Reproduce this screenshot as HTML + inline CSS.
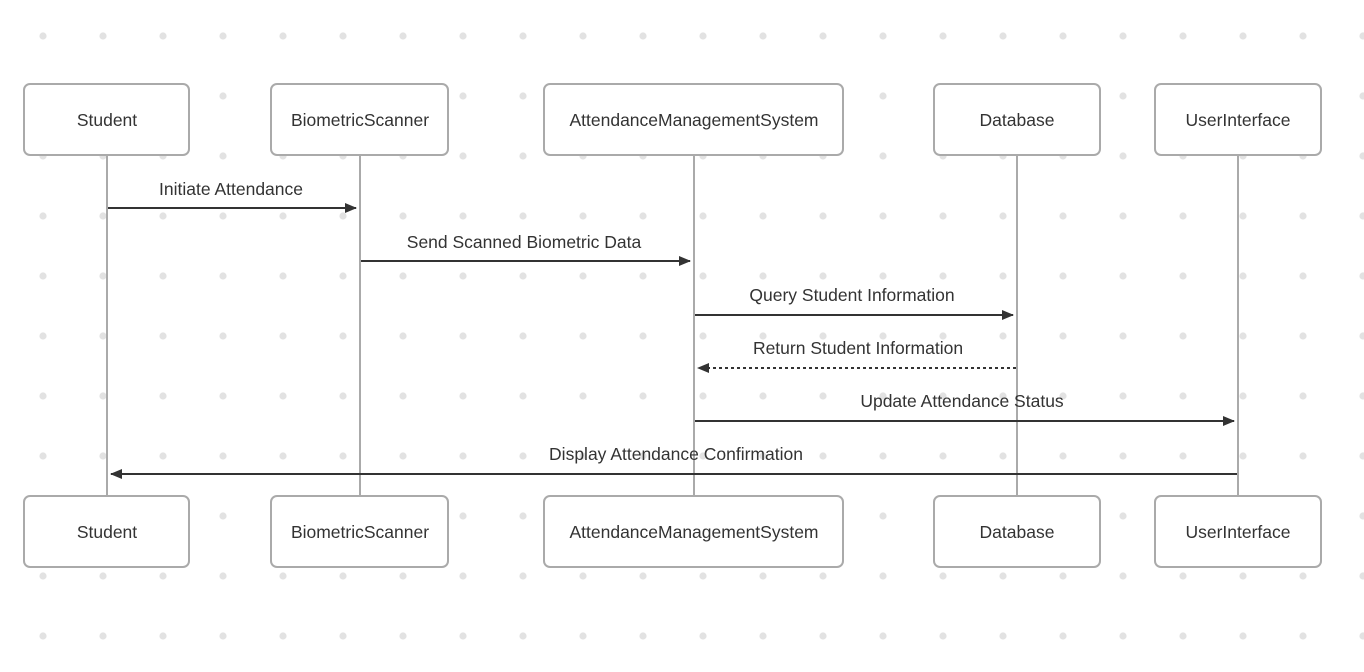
<!DOCTYPE html>
<html><head><meta charset="utf-8"><style>
html,body{margin:0;padding:0;background:#fff}
svg{display:block}
text{font-family:"Liberation Sans",Arial,sans-serif;font-size:17.5px;fill:#333}
</style></head><body>
<svg width="1364" height="672" viewBox="0 0 1364 672">
<defs>
<pattern id="d" x="13" y="6" width="60" height="60" patternUnits="userSpaceOnUse">
<circle cx="30" cy="30" r="3.6" fill="#e2e2e2"/></pattern>
<marker id="a" markerWidth="12" markerHeight="10" refX="11" refY="5" orient="auto" markerUnits="userSpaceOnUse"><path d="M0,0 L12,5 L0,10 z" fill="#333"/></marker>
</defs>
<rect width="1364" height="672" fill="url(#d)"/>
<g stroke="#aaa" stroke-width="2">
<line x1="107" y1="155" x2="107" y2="496"/><line x1="360" y1="155" x2="360" y2="496"/>
<line x1="694" y1="155" x2="694" y2="496"/><line x1="1017" y1="155" x2="1017" y2="496"/>
<line x1="1238" y1="155" x2="1238" y2="496"/>
</g>
<g fill="#fff" stroke="#aaa" stroke-width="2">
<rect x="24" y="84" width="165" height="71" rx="6"/><rect x="271" y="84" width="177" height="71" rx="6"/>
<rect x="544" y="84" width="299" height="71" rx="6"/><rect x="934" y="84" width="166" height="71" rx="6"/>
<rect x="1155" y="84" width="166" height="71" rx="6"/>
<rect x="24" y="496" width="165" height="71" rx="6"/><rect x="271" y="496" width="177" height="71" rx="6"/>
<rect x="544" y="496" width="299" height="71" rx="6"/><rect x="934" y="496" width="166" height="71" rx="6"/>
<rect x="1155" y="496" width="166" height="71" rx="6"/>
</g>
<g text-anchor="middle">
<text x="107" y="126">Student</text><text x="360" y="126">BiometricScanner</text>
<text x="694" y="126">AttendanceManagementSystem</text><text x="1017" y="126">Database</text>
<text x="1238" y="126">UserInterface</text>
<text x="107" y="538">Student</text><text x="360" y="538">BiometricScanner</text>
<text x="694" y="538">AttendanceManagementSystem</text><text x="1017" y="538">Database</text>
<text x="1238" y="538">UserInterface</text>
<text x="231" y="195">Initiate Attendance</text>
<text x="524" y="248">Send Scanned Biometric Data</text>
<text x="852" y="301">Query Student Information</text>
<text x="858" y="354">Return Student Information</text>
<text x="962" y="407">Update Attendance Status</text>
<text x="676" y="460">Display Attendance Confirmation</text>
</g>
<g stroke="#333" stroke-width="2" marker-end="url(#a)">
<line x1="108" y1="208" x2="356" y2="208"/>
<line x1="361" y1="261" x2="690" y2="261"/>
<line x1="695" y1="315" x2="1013" y2="315"/>
<line x1="1016" y1="368" x2="698" y2="368" stroke-dasharray="3,3"/>
<line x1="695" y1="421" x2="1234" y2="421"/>
<line x1="1237" y1="474" x2="111" y2="474"/>
</g>
</svg>
</body></html>
